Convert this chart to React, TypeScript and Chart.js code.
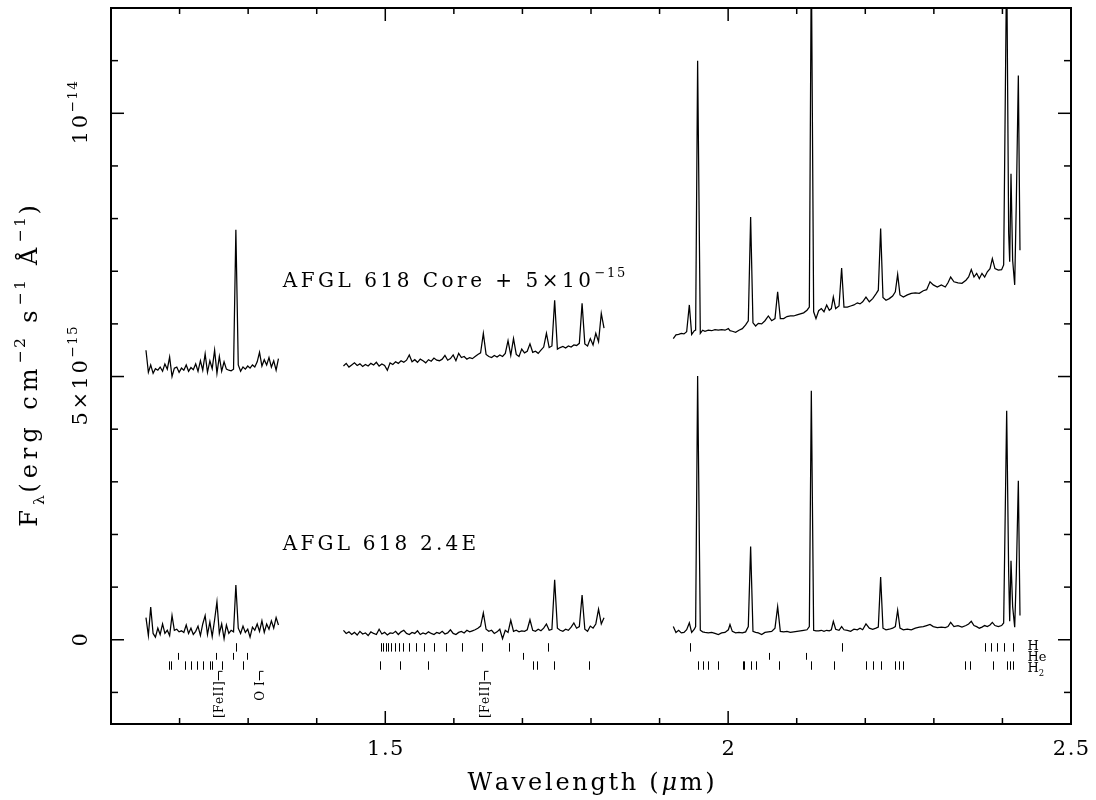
import React, { useEffect, useRef } from "react";
import { Chart, registerables } from "chart.js";

Chart.register(...registerables);

// ---------------- data (flux in units of 1e-15 erg cm^-2 s^-1 A^-1) ----------------
const jWave = [
  1.151, 1.1545, 1.1579, 1.1614, 1.1648, 1.1683, 1.1717, 1.1752, 1.1786, 1.1821,
  1.1855, 1.189, 1.1924, 1.1959, 1.1993, 1.2028, 1.2062, 1.2097, 1.2131, 1.2166,
  1.22, 1.2235, 1.2269, 1.2304, 1.2338, 1.2373, 1.2407, 1.2442, 1.2476, 1.2511,
  1.2545, 1.258, 1.2614, 1.2649, 1.2683, 1.2718, 1.2752, 1.2787, 1.2821, 1.2856,
  1.289, 1.2925, 1.2959, 1.2994, 1.3028, 1.3063, 1.3097, 1.3132, 1.3166, 1.3201,
  1.3235, 1.327, 1.3304, 1.3339, 1.3373, 1.3408, 1.3442,
];
const jCore = [
  5.5, 5.08, 5.22, 5.06, 5.15, 5.12, 5.18, 5.1, 5.24, 5.14,
  5.37, 5.0, 5.16, 5.18, 5.08, 5.16, 5.12, 5.22, 5.1, 5.17,
  5.13, 5.24, 5.1, 5.3, 5.12, 5.43, 5.08, 5.3, 5.15, 5.5,
  5.06, 5.38, 5.1, 5.28, 5.14, 5.12, 5.11, 5.14, 7.79, 5.22,
  5.1, 5.18, 5.14, 5.2, 5.16, 5.22, 5.18, 5.28, 5.46, 5.2,
  5.32, 5.22, 5.36, 5.18, 5.3, 5.12, 5.34,
];
const jE = [
  0.42, 0.08, 0.62, 0.12, 0.05, 0.22, 0.1, 0.3, 0.12, 0.18,
  0.08, 0.46, 0.18, 0.2, 0.15, 0.17, 0.14, 0.28, 0.12, 0.22,
  0.1, 0.16, 0.26, 0.08, 0.3, 0.46, 0.1, 0.34, 0.06, 0.38,
  0.72, 0.12, 0.3, 0.02, 0.28, 0.12, 0.18, 0.15, 1.04, 0.22,
  0.12, 0.26, 0.14, 0.2, 0.05, 0.24, 0.18, 0.3, 0.16, 0.36,
  0.14, 0.3, 0.2, 0.36, 0.22, 0.42, 0.28,
];

const hWave = [
  1.439, 1.443, 1.447, 1.451, 1.455, 1.459, 1.463, 1.467, 1.471, 1.475,
  1.479, 1.483, 1.487, 1.491, 1.495, 1.499, 1.503, 1.507, 1.511, 1.515,
  1.519, 1.523, 1.527, 1.531, 1.535, 1.539, 1.543, 1.547, 1.551, 1.555,
  1.559, 1.563, 1.567, 1.571, 1.575, 1.579, 1.583, 1.587, 1.591, 1.595,
  1.599, 1.603, 1.607, 1.611, 1.615, 1.619, 1.623, 1.627, 1.631, 1.635,
  1.639, 1.643, 1.647, 1.651, 1.655, 1.659, 1.663, 1.667, 1.671, 1.675,
  1.679, 1.683, 1.687, 1.691, 1.695, 1.699, 1.703, 1.707, 1.711, 1.715,
  1.719, 1.723, 1.727, 1.731, 1.735, 1.739, 1.743, 1.747, 1.751, 1.755,
  1.759, 1.763, 1.767, 1.771, 1.775, 1.779, 1.783, 1.787, 1.791, 1.795,
  1.799, 1.803, 1.807, 1.811, 1.815, 1.819,
];
const hCore = [
  5.2, 5.25, 5.18, 5.22, 5.26, 5.21, 5.24, 5.19, 5.23, 5.2,
  5.25, 5.22, 5.27, 5.2, 5.24, 5.21, 5.12, 5.26, 5.23, 5.28,
  5.25, 5.3, 5.27, 5.31, 5.41, 5.28, 5.32, 5.27, 5.33, 5.3,
  5.26, 5.32, 5.29, 5.35, 5.31, 5.3, 5.33, 5.4, 5.31, 5.34,
  5.41, 5.3, 5.44, 5.36, 5.38, 5.33, 5.36, 5.34, 5.38, 5.42,
  5.45, 5.82, 5.42, 5.38, 5.36, 5.4, 5.37, 5.41, 5.38, 5.44,
  5.68, 5.4, 5.72, 5.42, 5.38, 5.52, 5.45, 5.48, 5.62, 5.46,
  5.48, 5.44, 5.5, 5.56, 5.82, 5.55, 5.58, 6.45, 5.52, 5.55,
  5.57, 5.54, 5.58, 5.56, 5.6, 5.59, 5.63, 6.39, 5.62, 5.58,
  5.72, 5.6, 5.82, 5.66, 6.2, 5.92,
];
const hE = [
  0.18, 0.12, 0.15, 0.1, 0.14, 0.09, 0.16, 0.11, 0.13, 0.08,
  0.15, 0.12, 0.1, 0.2, 0.11, 0.14, 0.09, 0.13, 0.12, 0.16,
  0.1, 0.15, 0.18, 0.12, 0.1, 0.14, 0.12, 0.17, 0.1, 0.13,
  0.11, 0.15, 0.12, 0.1, 0.14, 0.12, 0.16, 0.11, 0.13, 0.19,
  0.12, 0.1, 0.14, 0.16, 0.13, 0.18, 0.15, 0.17, 0.19, 0.22,
  0.26, 0.51, 0.2, 0.16, 0.18, 0.12, 0.15, 0.2, 0.02, 0.18,
  0.14, 0.37, 0.16, 0.18, 0.15, 0.17, 0.16, 0.19, 0.38, 0.18,
  0.16, 0.2, 0.17, 0.22, 0.3, 0.18, 0.2, 1.14, 0.22, 0.18,
  0.16, 0.2, 0.18, 0.24, 0.32, 0.22, 0.25, 0.85, 0.2, 0.16,
  0.26, 0.22, 0.3, 0.58, 0.3, 0.42,
];

const kWave = [
  1.92, 1.9239, 1.9278, 1.9317, 1.9356, 1.9395, 1.9434, 1.9468, 1.9507, 1.9526,
  1.9555, 1.9594, 1.9628, 1.9662, 1.9711, 1.9759, 1.9808, 1.9857, 1.9905, 1.9954,
  2.0003, 2.0027, 2.0061, 2.0109, 2.0158, 2.0207, 2.0255, 2.0294, 2.0328, 2.0362,
  2.0401, 2.044, 2.0489, 2.0537, 2.0586, 2.0635, 2.0683, 2.0722, 2.0761, 2.081,
  2.0858, 2.0907, 2.0955, 2.1004, 2.1053, 2.1101, 2.115, 2.1184, 2.1213, 2.1247,
  2.1281, 2.132, 2.1359, 2.1398, 2.1437, 2.1475, 2.1505, 2.1534, 2.1568, 2.1617,
  2.1655, 2.1689, 2.1738, 2.1787, 2.1835, 2.1884, 2.1923, 2.1962, 2.201, 2.2059,
  2.2108, 2.2156, 2.219, 2.2224, 2.2258, 2.2302, 2.235, 2.2399, 2.2438, 2.2472,
  2.2506, 2.2555, 2.2613, 2.2671, 2.273, 2.2788, 2.2846, 2.2895, 2.2944, 2.2992,
  2.305, 2.3109, 2.3167, 2.3206, 2.3245, 2.3293, 2.3352, 2.341, 2.3468, 2.3507,
  2.3546, 2.3585, 2.3624, 2.3663, 2.3702, 2.3741, 2.378, 2.3819, 2.3853, 2.3891,
  2.394, 2.3988, 2.4018, 2.4062, 2.4091, 2.4106, 2.4125, 2.4149, 2.4179, 2.4203,
  2.4232, 2.4256,
];
const kCore = [
  5.72, 5.79, 5.8, 5.82, 5.81, 5.85, 6.36, 5.8, 5.87, 5.88,
  11.0, 5.82, 5.88, 5.86, 5.88, 5.87, 5.89, 5.88, 5.89, 5.88,
  5.91, 5.87, 5.86, 5.84, 5.88, 5.91, 5.98, 6.06, 8.03, 6.02,
  5.96, 6.01, 6.0, 6.06, 6.15, 6.06, 6.1, 6.61, 6.1, 6.1,
  6.14, 6.15, 6.15, 6.17, 6.19, 6.21, 6.26, 6.32, 13.0, 6.23,
  6.1, 6.25, 6.29, 6.23, 6.36, 6.26, 6.29, 6.51, 6.29, 6.34,
  7.06, 6.32, 6.32, 6.34, 6.36, 6.4, 6.38, 6.42, 6.51, 6.42,
  6.48, 6.57, 6.64, 7.81, 6.5, 6.45, 6.48, 6.53, 6.61, 6.94,
  6.55, 6.51, 6.55, 6.58, 6.59, 6.58, 6.63, 6.65, 6.8, 6.74,
  6.7, 6.74, 6.7, 6.78, 6.89, 6.8, 6.78, 6.77, 6.83, 6.89,
  7.03, 6.89, 6.96, 6.86, 6.96, 6.89, 6.99, 7.05, 7.24, 7.05,
  7.02, 7.03, 7.12, 13.0, 7.72, 7.18, 8.85, 7.21, 6.74, 8.35,
  10.72, 7.4,
];
const kE = [
  0.25, 0.14, 0.18, 0.13, 0.14, 0.19, 0.32, 0.14, 0.2, 0.25,
  5.01, 0.18, 0.15, 0.14, 0.13, 0.14, 0.12, 0.1, 0.13, 0.14,
  0.19, 0.29, 0.16, 0.13, 0.14, 0.13, 0.15, 0.25, 1.77, 0.16,
  0.14, 0.13, 0.1, 0.14, 0.15, 0.16, 0.22, 0.63, 0.16, 0.15,
  0.16, 0.14, 0.15, 0.16, 0.17, 0.18, 0.19, 0.25, 4.73, 0.18,
  0.17, 0.17, 0.18, 0.16, 0.18, 0.17, 0.19, 0.35, 0.2, 0.18,
  0.25, 0.19, 0.18, 0.16, 0.2, 0.19, 0.22, 0.19, 0.3, 0.22,
  0.2, 0.22, 0.24, 1.19, 0.22, 0.19, 0.2, 0.22, 0.25, 0.56,
  0.22, 0.19, 0.2, 0.19, 0.22, 0.24, 0.25, 0.27, 0.29, 0.25,
  0.23, 0.24, 0.23, 0.25, 0.33, 0.25, 0.27, 0.24, 0.27, 0.3,
  0.35, 0.27, 0.25, 0.22, 0.24, 0.27, 0.25, 0.28, 0.33, 0.27,
  0.25, 0.27, 0.32, 4.35, 1.27, 0.35, 1.5, 0.63, 0.24, 1.27,
  3.02, 0.46,
];

// line identification marks (wavelengths, micron)
const lineH = [
  1.2818, 1.4942, 1.4971, 1.5005, 1.5043, 1.5087, 1.5137, 1.5196, 1.5265, 1.5346,
  1.5443, 1.5561, 1.5705, 1.5885, 1.6114, 1.6412, 1.6811, 1.7367, 1.9451, 2.1656,
  2.3746, 2.3829, 2.3916, 2.4023, 2.415,
];
const lineHe = [1.1972, 1.2531, 1.2784, 1.2977, 1.7004, 2.0592, 2.1131];
const lineH2 = [
  1.1851, 1.1875, 1.2079, 1.2162, 1.2259, 1.2347, 1.2444, 1.2478, 1.2619, 1.293,
  1.4923, 1.5215, 1.5618, 1.715, 1.7218, 1.7466, 1.7976, 1.9565, 1.9639, 1.9711,
  1.9857, 2.0212, 2.0231, 2.0334, 2.0407, 2.0742, 2.1209, 2.1549, 2.2011, 2.2108,
  2.2229, 2.2434, 2.2497, 2.2555, 2.3454, 2.3527, 2.3868, 2.4062, 2.4111, 2.4159,
];
const labelFeII = [1.2567, 1.644];
const labelOI = [1.3165];

// axis ticks
const xMinorTicks = [1.2, 1.3, 1.4, 1.6, 1.7, 1.8, 1.9, 2.1, 2.2, 2.3, 2.4];
const xMajorTicks = [1.5, 2.0];
const xTickValues = [1.5, 2.0, 2.5];
const xTickLabels = ["1.5", "2", "2.5"];
const yMinorTicks = [-1, 1, 2, 3, 4, 6, 7, 8, 9, 11];
const yMajorTicks = [0, 5, 10];
const yTickValues = [0, 5, 10];
const yTickMantissa = ["0", "5×10", "10"];
const yTickExponent = ["", "−15", "−14"];

// ---------------- text helpers ----------------
const FAMILY = '"DejaVu Serif", "Liberation Serif", serif';
type Run = { t: string; s?: "sup" | "sub"; it?: boolean };

function runFont(size: number, r: Run) {
  const sz = r.s ? size * 0.65 : size;
  return `${r.it ? "italic " : ""}${sz}px ${FAMILY}`;
}
function runsWidth(ctx: CanvasRenderingContext2D, runs: Run[], size: number, sp: number) {
  let w = 0;
  runs.forEach((r) => {
    ctx.font = runFont(size, r);
    for (const ch of r.t) w += ctx.measureText(ch).width + (r.s ? sp * 0.5 : sp);
  });
  return w - sp;
}
function drawRuns(
  ctx: CanvasRenderingContext2D,
  runs: Run[],
  x: number,
  y: number,
  size: number,
  sp: number,
  align: "left" | "center" | "right",
  rot = false
) {
  ctx.save();
  ctx.translate(x, y);
  if (rot) ctx.rotate(-Math.PI / 2);
  const w = runsWidth(ctx, runs, size, sp);
  let cx = align === "center" ? -w / 2 : align === "right" ? -w : 0;
  ctx.textAlign = "left";
  ctx.textBaseline = "alphabetic";
  ctx.fillStyle = "#000";
  runs.forEach((r) => {
    ctx.font = runFont(size, r);
    const dy = r.s === "sup" ? -size * 0.5 : r.s === "sub" ? size * 0.28 : 0;
    for (const ch of r.t) {
      ctx.fillText(ch, cx, dy);
      cx += ctx.measureText(ch).width + (r.s ? sp * 0.5 : sp);
    }
  });
  ctx.restore();
}

const overlay = {
  id: "overlay",
  afterDatasetsDraw(chart: any) {
    const { ctx, chartArea: a } = chart;
    const xs = chart.scales.x;
    const ys = chart.scales.y;
    const seg = (x1: number, y1: number, x2: number, y2: number) => {
      ctx.beginPath();
      ctx.moveTo(x1, y1);
      ctx.lineTo(x2, y2);
      ctx.stroke();
    };
    ctx.save();
    ctx.strokeStyle = "#000";
    ctx.fillStyle = "#000";

    // frame
    ctx.lineWidth = 2;
    ctx.strokeRect(a.left, a.top, a.right - a.left, a.bottom - a.top);

    // ticks (inside, all four sides)
    ctx.lineWidth = 1.5;
    xMinorTicks.forEach((v) => {
      const p = xs.getPixelForValue(v);
      seg(p, a.bottom, p, a.bottom - 6);
      seg(p, a.top, p, a.top + 6);
    });
    xMajorTicks.forEach((v) => {
      const p = xs.getPixelForValue(v);
      seg(p, a.bottom, p, a.bottom - 13);
      seg(p, a.top, p, a.top + 13);
    });
    yMinorTicks.forEach((v) => {
      const p = ys.getPixelForValue(v);
      seg(a.left, p, a.left + 7, p);
      seg(a.right, p, a.right - 7, p);
    });
    yMajorTicks.forEach((v) => {
      const p = ys.getPixelForValue(v);
      seg(a.left, p, a.left + 13, p);
      seg(a.right, p, a.right - 13, p);
    });

    // tick labels
    xTickValues.forEach((v, i) => {
      drawRuns(ctx, [{ t: xTickLabels[i] }], xs.getPixelForValue(v), 755, 21, 1.5, "center");
    });
    yTickValues.forEach((v, i) => {
      const runs: Run[] = [{ t: yTickMantissa[i] }];
      if (yTickExponent[i]) runs.push({ t: yTickExponent[i], s: "sup" });
      drawRuns(ctx, runs, 87, ys.getPixelForValue(v), 21, 2.5, "center", true);
    });

    // axis titles
    drawRuns(
      ctx,
      [{ t: "Wavelength (" }, { t: "μ", it: true }, { t: "m)" }],
      (a.left + a.right) / 2,
      790,
      24,
      2.7,
      "center"
    );
    drawRuns(
      ctx,
      [
        { t: "F" },
        { t: "λ", s: "sub" },
        { t: "(erg cm" },
        { t: "−2", s: "sup" },
        { t: " s" },
        { t: "−1", s: "sup" },
        { t: " Å" },
        { t: "−1", s: "sup" },
        { t: ")" },
      ],
      37,
      (a.top + a.bottom) / 2,
      24,
      5,
      "center",
      true
    );

    // spectrum annotations
    drawRuns(
      ctx,
      [{ t: "AFGL 618 Core + 5×10" }, { t: "−15", s: "sup" }],
      xs.getPixelForValue(1.3505),
      ys.getPixelForValue(6.7),
      20,
      3.5,
      "left"
    );
    drawRuns(ctx, [{ t: "AFGL 618 2.4E" }], xs.getPixelForValue(1.3505), ys.getPixelForValue(1.71), 20, 3.2, "left");

    // line identification rows
    ctx.lineWidth = 1;
    const row = (list: number[], y1: number, y2: number) => {
      const p1 = ys.getPixelForValue(y1);
      const p2 = ys.getPixelForValue(y2);
      list.forEach((v) => {
        const p = Math.round(xs.getPixelForValue(v)) + 0.5;
        seg(p, p1, p, p2);
      });
    };
    row(lineH, -0.065, -0.225);
    row(lineHe, -0.25, -0.38);
    row(lineH2, -0.41, -0.57);
    const rx = xs.getPixelForValue(2.4365);
    drawRuns(ctx, [{ t: "H" }], rx, ys.getPixelForValue(-0.19), 13, 0, "left");
    drawRuns(ctx, [{ t: "He" }], rx, ys.getPixelForValue(-0.4), 13, 0, "left");
    drawRuns(ctx, [{ t: "H" }, { t: "2", s: "sub" }], rx, ys.getPixelForValue(-0.61), 13, 0, "left");

    // vertical feature labels hanging below the marks
    const hang = (v: number, text: string) => {
      const px = Math.round(xs.getPixelForValue(v)) + 0.5;
      const top = ys.getPixelForValue(-0.6);
      seg(px, top, px, top + 9);
      seg(px, top, px + 4, top);
      drawRuns(ctx, [{ t: text }], px + 4.5, top + 10, 12, 0.5, "right", true);
    };
    labelFeII.forEach((v) => hang(v, "[FeII]"));
    labelOI.forEach((v) => hang(v, "O I"));

    ctx.restore();
  },
};

export default function App() {
  const ref = useRef<HTMLCanvasElement>(null);
  useEffect(() => {
    const canvas = ref.current;
    if (!canvas) return;
    const ds = (w: number[], f: number[]) => ({
      data: w.map((x, i) => ({ x, y: f[i] })),
      showLine: true,
      borderColor: "#000",
      borderWidth: 1.25,
      pointRadius: 0,
      fill: false,
      tension: 0,
    });
    const chart = new Chart(canvas, {
      type: "scatter",
      data: {
        datasets: [
          ds(jWave, jCore),
          ds(hWave, hCore),
          ds(kWave, kCore),
          ds(jWave, jE),
          ds(hWave, hE),
          ds(kWave, kE),
        ],
      },
      options: {
        animation: false,
        responsive: false,
        devicePixelRatio: 1,
        layout: { padding: { left: 111, right: 25, top: 8, bottom: 76 } },
        plugins: { legend: { display: false }, tooltip: { enabled: false } },
        scales: {
          x: { type: "linear", min: 1.1, max: 2.5, display: false },
          y: { type: "linear", min: -1.6, max: 12, display: false },
        },
      },
      plugins: [overlay],
    } as any);
    return () => chart.destroy();
  }, []);
  return (
    <div style={{ position: "absolute", left: 0, top: 0, width: 1096, height: 800, background: "#fff" }}>
      <canvas ref={ref} width={1096} height={800} style={{ display: "block", width: 1096, height: 800 }} />
    </div>
  );
}
